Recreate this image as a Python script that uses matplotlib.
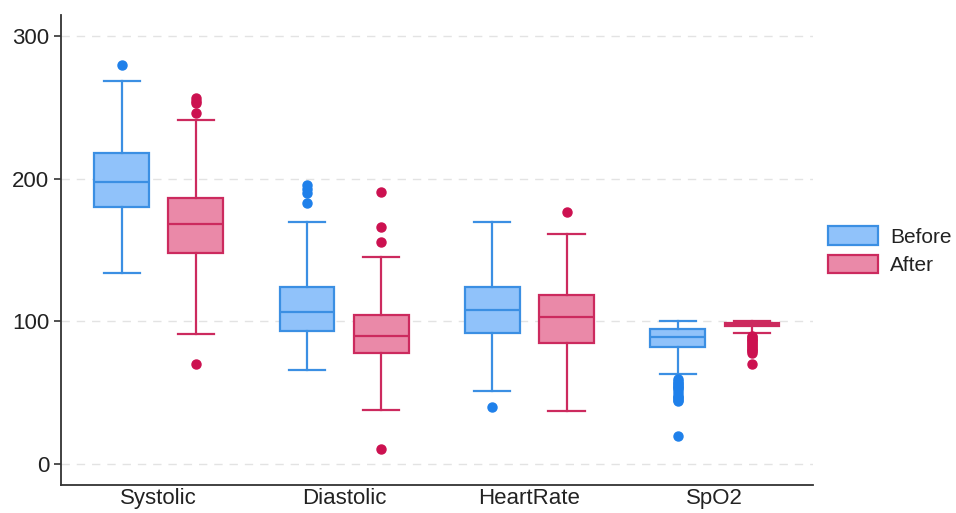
import matplotlib.pyplot as plt
from matplotlib.patches import Patch

plt.rcParams['font.family'] = ['Liberation Sans', 'DejaVu Sans']

categories = ['Systolic', 'Diastolic', 'HeartRate', 'SpO2']

# box stats: (whislo, q1, med, q3, whishi)
before_stats = [(134, 180, 197.5, 218.5, 269),
                (66, 93, 106.5, 124.5, 170),
                (51, 92, 108, 124.5, 170),
                (63, 82, 89, 94.5, 100)]
after_stats = [(91, 148, 168.5, 186.5, 241),
               (38, 78, 90, 104.5, 145),
               (37, 85, 103, 118.5, 161.5),
               (92, 96.5, 98, 99, 100)]

before_fliers = [[280],
                 [183, 190, 193, 196],
                 [40],
                 [20, 44, 45, 46, 47, 48, 50, 52, 53, 54, 55, 56, 57, 58, 60]]
after_fliers = [[70.5, 246, 253, 255, 257],
                [10.5, 156, 166, 191],
                [177],
                [70, 78, 79, 80, 81, 82, 83, 84, 85, 86, 87, 88, 89, 90]]

blue_fill = '#90c2fa'
blue_edge = '#3b8fe3'
blue_dot = '#1f80ea'
pink_fill = '#ea89a8'
pink_edge = '#cc2a5e'
pink_dot = '#cc1150'


def to_bxp(stats, fliers):
    out = []
    for (lo, q1, med, q3, hi), fl in zip(stats, fliers):
        out.append(dict(whislo=lo, q1=q1, med=med, q3=q3, whishi=hi, fliers=fl))
    return out


fig = plt.figure(figsize=(9.56, 5.13), dpi=100)
ax = fig.add_axes([0.0638, 0.0546, 0.7862, 0.9162])

for stats, fliers, shift, fc, ec, dc in [
        (before_stats, before_fliers, -0.2, blue_fill, blue_edge, blue_dot),
        (after_stats, after_fliers, 0.2, pink_fill, pink_edge, pink_dot)]:
    pos = [i + shift for i in range(len(categories))]
    ax.bxp(to_bxp(stats, fliers), positions=pos, widths=0.296, capwidths=0.195,
           patch_artist=True, manage_ticks=False,
           boxprops=dict(facecolor=fc, edgecolor=ec, linewidth=1.6),
           medianprops=dict(color=ec, linewidth=1.6),
           whiskerprops=dict(color=ec, linewidth=1.6),
           capprops=dict(color=ec, linewidth=1.6),
           flierprops=dict(marker='o', markerfacecolor=dc, markeredgecolor=dc,
                           markersize=6.5))

ax.set_xlim(-0.527, 3.527)
ax.set_ylim(-14.7, 315)
ax.set_xticks(range(len(categories)))
ax.set_xticklabels(categories)
ax.set_yticks([0, 100, 200, 300])
ax.tick_params(axis='x', length=0, labelsize=16, pad=2.5, labelcolor='#222222')
ax.tick_params(axis='y', length=5, width=1.2, labelsize=16, color='#333333',
               labelcolor='#222222')
ax.yaxis.grid(True, linestyle=(0, (6, 5)), color='#e3e3e3', linewidth=1)
ax.set_axisbelow(True)
for s in ['top', 'right']:
    ax.spines[s].set_visible(False)
for s in ['left', 'bottom']:
    ax.spines[s].set_color('#333333')
    ax.spines[s].set_linewidth(1.3)

handles = [Patch(facecolor=blue_fill, edgecolor=blue_edge, linewidth=1.6),
           Patch(facecolor=pink_fill, edgecolor=pink_edge, linewidth=1.6)]
fig.legend(handles, ['Before', 'After'], loc='upper left',
           bbox_to_anchor=(0.857, 0.575), frameon=False, fontsize=15,
           handlelength=2.4, handleheight=1.0, labelspacing=0.38,
           handletextpad=0.6, borderaxespad=0, labelcolor='#222222')

plt.savefig('out.png')
